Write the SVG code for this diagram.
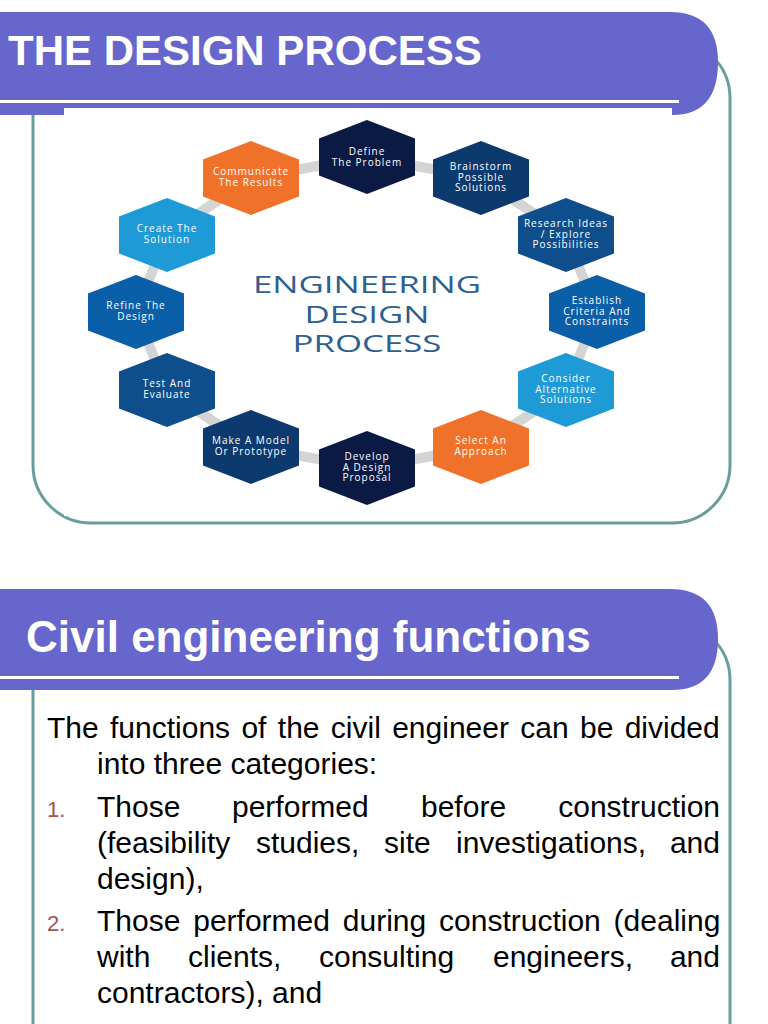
<svg xmlns="http://www.w3.org/2000/svg" xmlns:xlink="http://www.w3.org/1999/xlink" width="768" height="1024" viewBox="0 0 768 1024">
<style>
.hdr{fill:#6766CC}
.teal{fill:none;stroke:#6A9E9C;stroke-width:3}
.htxt{font-family:"Liberation Sans",Arial,sans-serif;font-weight:bold;fill:#fff}
.ntxt{font-family:"Open Sans","DejaVu Sans",sans-serif;font-size:10px;font-weight:400;fill:#fff;text-anchor:middle;letter-spacing:1px}
.title{font-family:"Open Sans","DejaVu Sans",sans-serif;font-size:24px;font-weight:400;fill:#2F5F8F;text-anchor:middle}
.body{font-family:"Liberation Sans",Arial,sans-serif;font-size:30px;fill:#000}
.num{font-family:"Liberation Sans",Arial,sans-serif;font-size:22px;fill:#A05353}
.navy{fill:#0A1A44}.dblue{fill:#0D3A6E}.mblue{fill:#0F4E8C}.blue{fill:#0B5EA8}.lblue{fill:#1E9BD7}.orange{fill:#F0722A}
.conn{fill:none;stroke:#D4D4D4;stroke-width:10;stroke-linejoin:round}
</style>
<defs>
<polygon id="hex" points="0,-37 48,-18.5 48,18.5 0,37 -48,18.5 -48,-18.5"/>
</defs>
<rect width="768" height="1024" fill="#fff"/>

<!-- Section 1 -->
<rect class="teal" x="33" y="40" width="697" height="483" rx="58" ry="58"/>
<path class="hdr" d="M0,12 H670 Q718,12 718,62 Q718,115 672,115 H0 Z"/>
<rect x="0" y="100" width="679" height="3" fill="#fff"/>
<rect x="64" y="108" width="608" height="408" fill="#fff"/>
<text class="htxt" x="8" y="65" font-size="42">THE DESIGN PROCESS</text>

<g id="connectors">
<polygon class="conn" points="367,157 481,178 566,235 597,312 566,390 481,447 367,468 251,447 167,390 136,312 167,235 251,178"/>
</g>

<g id="title">
<text class="title" transform="translate(367,293) scale(1.45,1)">ENGINEERING</text>
<text class="title" transform="translate(367,322.5) scale(1.45,1)">DESIGN</text>
<text class="title" transform="translate(367,352) scale(1.45,1)">PROCESS</text>
</g>

<g id="node-define"><use xlink:href="#hex" href="#hex" x="367" y="157" class="navy"/>
<text class="ntxt" y="155"><tspan x="367">Define</tspan><tspan x="367" dy="10.5">The Problem</tspan></text></g>
<g id="node-brainstorm"><use xlink:href="#hex" href="#hex" x="481" y="178" class="dblue"/>
<text class="ntxt" y="170"><tspan x="481">Brainstorm</tspan><tspan x="481" dy="10.5">Possible</tspan><tspan x="481" dy="10.5">Solutions</tspan></text></g>
<g id="node-research"><use xlink:href="#hex" href="#hex" x="566" y="235" class="mblue"/>
<text class="ntxt" y="227"><tspan x="566">Research Ideas</tspan><tspan x="566" dy="10.5">/ Explore</tspan><tspan x="566" dy="10.5">Possibilities</tspan></text></g>
<g id="node-establish"><use xlink:href="#hex" href="#hex" x="597" y="312" class="blue"/>
<text class="ntxt" y="304"><tspan x="597">Establish</tspan><tspan x="597" dy="10.5">Criteria And</tspan><tspan x="597" dy="10.5">Constraints</tspan></text></g>
<g id="node-consider"><use xlink:href="#hex" href="#hex" x="566" y="390" class="lblue"/>
<text class="ntxt" y="382"><tspan x="566">Consider</tspan><tspan x="566" dy="10.5">Alternative</tspan><tspan x="566" dy="10.5">Solutions</tspan></text></g>
<g id="node-select"><use xlink:href="#hex" href="#hex" x="481" y="447" class="orange"/>
<text class="ntxt" y="444"><tspan x="481">Select An</tspan><tspan x="481" dy="10.5">Approach</tspan></text></g>
<g id="node-develop"><use xlink:href="#hex" href="#hex" x="367" y="468" class="navy"/>
<text class="ntxt" y="460"><tspan x="367">Develop</tspan><tspan x="367" dy="10.5">A Design</tspan><tspan x="367" dy="10.5">Proposal</tspan></text></g>
<g id="node-model"><use xlink:href="#hex" href="#hex" x="251" y="447" class="dblue"/>
<text class="ntxt" y="444"><tspan x="251">Make A Model</tspan><tspan x="251" dy="10.5">Or Prototype</tspan></text></g>
<g id="node-test"><use xlink:href="#hex" href="#hex" x="167" y="390" class="mblue"/>
<text class="ntxt" y="387"><tspan x="167">Test And</tspan><tspan x="167" dy="10.5">Evaluate</tspan></text></g>
<g id="node-refine"><use xlink:href="#hex" href="#hex" x="136" y="312" class="blue"/>
<text class="ntxt" y="309"><tspan x="136">Refine The</tspan><tspan x="136" dy="10.5">Design</tspan></text></g>
<g id="node-create"><use xlink:href="#hex" href="#hex" x="167" y="235" class="lblue"/>
<text class="ntxt" y="232"><tspan x="167">Create The</tspan><tspan x="167" dy="10.5">Solution</tspan></text></g>
<g id="node-communicate"><use xlink:href="#hex" href="#hex" x="251" y="178" class="orange"/>
<text class="ntxt" y="175"><tspan x="251">Communicate</tspan><tspan x="251" dy="10.5">The Results</tspan></text></g>

<!-- Section 2 -->
<rect class="teal" x="33" y="622" width="697" height="480" rx="58" ry="58"/>
<path class="hdr" d="M0,589 H670 Q718,589 718,639 Q718,690 672,690 H0 Z"/>
<rect x="0" y="676" width="679" height="3" fill="#fff"/>
<text class="htxt" x="26" y="652" font-size="44">Civil engineering functions</text>

<g id="body">
<text class="body" x="47" y="738" word-spacing="3">The functions of the civil engineer can be divided</text>
<text class="body" x="97" y="774">into three categories:</text>
<text class="num" x="47" y="817">1.</text>
<text class="body" y="817"><tspan x="97">Those</tspan><tspan x="232">performed</tspan><tspan x="421">before</tspan><tspan x="720" text-anchor="end">construction</tspan></text>
<text class="body" y="853"><tspan x="97">(feasibility</tspan><tspan x="256">studies,</tspan><tspan x="384">site</tspan><tspan x="456">investigations,</tspan><tspan x="720" text-anchor="end">and</tspan></text>
<text class="body" x="97" y="889">design),</text>
<text class="num" x="47" y="931">2.</text>
<text class="body" x="97" y="931" word-spacing="4.5">Those performed during construction (dealing</text>
<text class="body" y="967"><tspan x="97">with</tspan><tspan x="188">clients,</tspan><tspan x="319">consulting</tspan><tspan x="493">engineers,</tspan><tspan x="720" text-anchor="end">and</tspan></text>
<text class="body" x="97" y="1003">contractors), and</text>
</g>
</svg>
